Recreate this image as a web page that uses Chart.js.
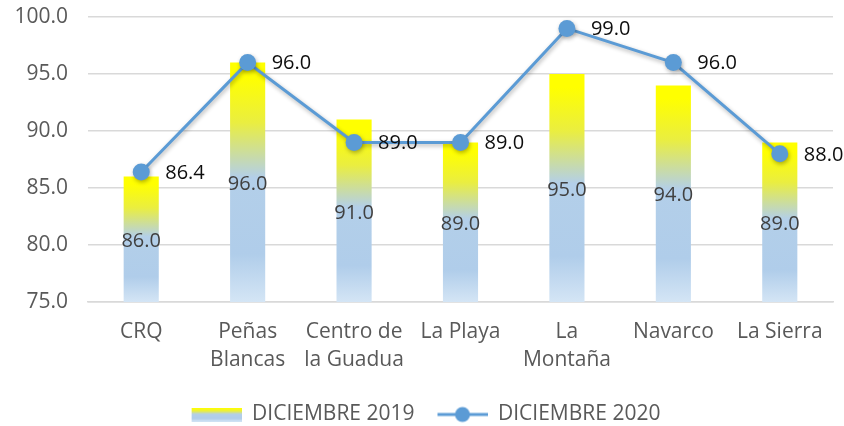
<!DOCTYPE html>
<html>
<head>
<meta charset="utf-8">
<script src="https://cdn.jsdelivr.net/npm/chart.js@4.4.0/dist/chart.umd.min.js"></script>
<style>
html, body { margin: 0; padding: 0; background: #fff; }
#wrap { width: 844px; height: 426px; }
</style>
</head>
<body>
<div id="wrap"><canvas id="grafik"></canvas></div>
<script>
// Datos
var categories = ["CRQ", ["Peñas", "Blancas"], ["Centro de", "la Guadua"], "La Playa", ["La", "Montaña"], "Navarco", "La Sierra"];
var data2019 = [86.0, 96.0, 91.0, 89.0, 95.0, 94.0, 89.0];
var data2020 = [86.4, 96.0, 89.0, 89.0, 99.0, 96.0, 88.0];
var yTicks = [75, 80, 85, 90, 95, 100];
var seriesNames = ["DICIEMBRE 2019", "DICIEMBRE 2020"];

var FONT = "'Open Sans', 'DejaVu Sans', sans-serif";
var lineColor = "#5B9BD5";

// degradado amarillo -> azul para cada barra
function addStops(g) {
    g.addColorStop(0, "#FFFF00");
    g.addColorStop(0.06, "#FFFF00");
    g.addColorStop(0.25, "#EAEE40");
    g.addColorStop(0.48, "#B3CFE9");
    g.addColorStop(0.8, "#B0CDEA");
    g.addColorStop(1, "#D4E5F5");
    return g;
}

function barGradient(context) {
    var chart = context.chart;
    if (!chart.chartArea || context.type !== "data") return "#B3CFE9";
    var yScale = chart.scales.y;
    var top = yScale.getPixelForValue(context.raw);
    var bottom = yScale.getPixelForValue(yScale.min);
    if (!isFinite(top) || !isFinite(bottom) || bottom - top < 1) return "#B3CFE9";
    return addStops(chart.ctx.createLinearGradient(0, top, 0, bottom));
}

// imagenes de la leyenda
var legendW = 69;
var legendBar = document.createElement("canvas");
legendBar.width = legendW; legendBar.height = 14;
(function () {
    var c = legendBar.getContext("2d");
    c.fillStyle = addStops(c.createLinearGradient(0, 0, 0, 14));
    c.fillRect(19, 0, 50, 14);
})();

var legendLine = document.createElement("canvas");
legendLine.width = legendW; legendLine.height = 18;
(function () {
    var c = legendLine.getContext("2d");
    c.strokeStyle = lineColor; c.lineWidth = 3;
    c.beginPath(); c.moveTo(19, 9); c.lineTo(69, 9); c.stroke();
    c.fillStyle = lineColor;
    c.beginPath(); c.arc(44, 9, 7.5, 0, Math.PI * 2); c.fill();
})();

// sombra para la linea
var shadowPlugin = {
    id: "shadowPlugin",
    beforeDatasetDraw: function (chart, args) {
        if (args.index === 1) {
            var ctx = chart.ctx;
            ctx.save();
            ctx.shadowColor = "rgba(0,0,0,0.3)";
            ctx.shadowBlur = 4;
            ctx.shadowOffsetX = 1;
            ctx.shadowOffsetY = 2;
        }
    },
    afterDatasetDraw: function (chart, args) {
        if (args.index === 1) chart.ctx.restore();
    }
};

// etiquetas de datos
var labelPlugin = {
    id: "labelPlugin",
    afterDatasetsDraw: function (chart) {
        var ctx = chart.ctx;
        var yScale = chart.scales.y;
        var base = yScale.getPixelForValue(yScale.min);
        ctx.save();
        ctx.font = "20px " + FONT;
        ctx.textBaseline = "middle";

        var barMeta = chart.getDatasetMeta(0);
        ctx.fillStyle = "#404040";
        ctx.textAlign = "center";
        barMeta.data.forEach(function (bar, i) {
            var top = yScale.getPixelForValue(data2019[i]);
            ctx.fillText(data2019[i].toFixed(1), bar.x, (top + base) / 2 + 2);
        });

        var lineMeta = chart.getDatasetMeta(1);
        ctx.fillStyle = "#0D0D0D";
        ctx.textAlign = "left";
        lineMeta.data.forEach(function (pt, i) {
            ctx.fillText(data2020[i].toFixed(1), pt.x + 24, pt.y + 1);
        });
        ctx.restore();
    }
};

var ctxChart = document.getElementById("grafik").getContext("2d");
var myChart = new Chart(ctxChart, {
    type: "bar",
    data: {
        labels: categories,
        datasets: [
            {
                label: seriesNames[0],
                data: data2019,
                backgroundColor: barGradient,
                borderWidth: 0,
                barPercentage: 0.66,
                categoryPercentage: 0.5,
                order: 1
            },
            {
                label: seriesNames[1],
                type: "line",
                data: data2020,
                borderColor: lineColor,
                borderWidth: 3,
                backgroundColor: lineColor,
                pointBackgroundColor: lineColor,
                pointBorderWidth: 0,
                pointRadius: 8.5,
                tension: 0,
                order: 0
            }
        ]
    },
    plugins: [shadowPlugin, labelPlugin],
    options: {
        responsive: true,
        maintainAspectRatio: false,
        animation: false,
        layout: { padding: { left: 0, right: 11, top: 17, bottom: -9 } },
        plugins: {
            tooltip: { enabled: false },
            legend: {
                position: "bottom",
                labels: {
                    usePointStyle: true,
                    pointStyleWidth: legendW,
                    padding: 4,
                    color: "#595959",
                    font: { family: FONT, size: 21 },
                    generateLabels: function () {
                        return [
                            { text: seriesNames[0], pointStyle: legendBar, datasetIndex: 0, fontColor: "#595959", lineWidth: 0, strokeStyle: "rgba(0,0,0,0)", fillStyle: "rgba(0,0,0,0)" },
                            { text: seriesNames[1], pointStyle: legendLine, datasetIndex: 1, fontColor: "#595959", lineWidth: 0, strokeStyle: "rgba(0,0,0,0)", fillStyle: "rgba(0,0,0,0)" }
                        ];
                    }
                }
            }
        },
        scales: {
            x: {
                grid: { display: false, drawTicks: false },
                border: { color: "#D9D9D9", width: 1.5 },
                ticks: {
                    color: "#595959",
                    padding: 16,
                    maxRotation: 0,
                    autoSkip: false,
                    font: { family: FONT, size: 21, lineHeight: 1.34 }
                },
                afterFit: function (scale) { scale.height = 98; }
            },
            y: {
                min: yTicks[0],
                max: yTicks[yTicks.length - 1],
                grid: { color: "#D9D9D9", lineWidth: 1.5, drawTicks: false },
                border: { display: false },
                ticks: {
                    stepSize: 5,
                    color: "#595959",
                    padding: 20,
                    font: { family: FONT, size: 21 },
                    callback: function (v) { return v.toFixed(1); }
                },
                afterFit: function (scale) {
                    scale.width = 88;
                    scale.paddingTop = 12;
                    scale.paddingBottom = 12;
                }
            }
        }
    }
});
</script>
</body>
</html>
